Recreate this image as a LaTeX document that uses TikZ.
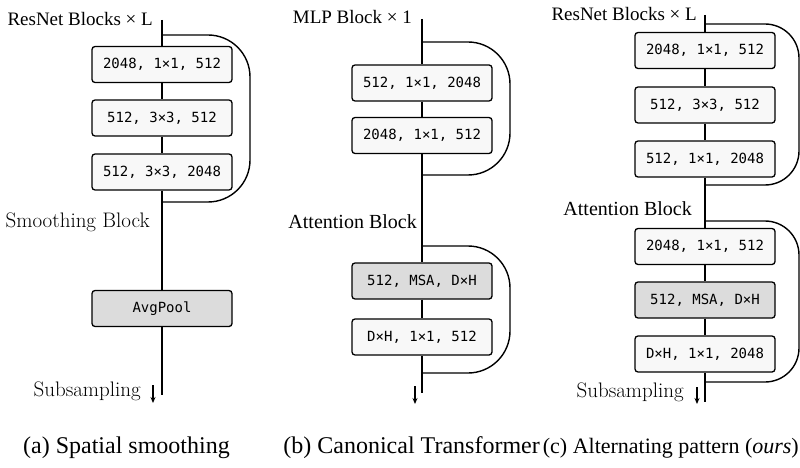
\documentclass[tikz,border=0pt]{standalone}
\usepackage{fontspec}
\setmainfont{Liberation Serif}
\newfontfamily\monof{DejaVu Sans Mono}
\newfontfamily\lmf{Latin Modern Roman}
\usetikzlibrary{arrows.meta}
\definecolor{boxw}{HTML}{F8F8F8}
\definecolor{boxg}{HTML}{DCDCDC}
\begin{document}
\begin{tikzpicture}[x=1pt,y=-1pt,
 blk/.style={draw, line width=1.3pt, rounded corners=3pt, fill=boxw, minimum width=140pt, minimum height=36pt, inner sep=0pt, font=\monof\fontsize{14}{16}\selectfont},
 blkg/.style={blk, fill=boxg},
 ln/.style={line width=1.4pt},
 skipa/.style={line width=1.4pt, rounded corners=42pt},
 skipc/.style={line width=1.4pt, rounded corners=34pt},
 lbl/.style={anchor=east, inner sep=0pt, font=\fontsize{19}{21}\selectfont},
 lbla/.style={anchor=east, inner sep=0pt, font=\fontsize{20}{22}\selectfont},
 lblm/.style={anchor=east, inner sep=0pt, font=\lmf\fontsize{21}{23}\selectfont},
 captxt/.style={anchor=east, inner sep=0pt, font=\fontsize{24}{26}\selectfont},
 sub/.style={-{Stealth[length=6pt,width=5pt]}, line width=1.3pt}]
\useasboundingbox (0,0) rectangle (800,468);
% ---------- (a) ----------
\coordinate (aT) at (162,20);
\coordinate (aS1) at (162,35);
\coordinate (aS2) at (162,202);
\coordinate (aB) at (162,395);
\node[blk] (a1) at (162,64.5) {2048, 1×1, 512};
\node[blk] (a2) at (162,118) {512, 3×3, 512};
\node[blk] (a3) at (162,172) {512, 3×3, 2048};
\node[blkg] (a4) at (162,308.5) {AvgPool};
\draw[ln] (aT) -- (a1);
\draw[ln] (a1) -- (a2);
\draw[ln] (a2) -- (a3);
\draw[ln] (a3) -- (a4);
\draw[ln] (a4) -- (aB);
\draw[skipa] (aS1) -- (250,35) -- (250,202) -- (aS2);
\node[lbl] (aL1) at (153,19) {ResNet Blocks × L};
\node[lblm] (aL2) at (150,222) {Smoothing Block};
\node[lblm] (aL3) at (141,391) {Subsampling};
\coordinate (aA1) at (153,385);
\coordinate (aA2) at (153,403);
\draw[sub] (aA1) -- (aA2);
\node[captxt] (capA) at (230,448) {(a) Spatial smoothing};
% ---------- (b) ----------
\coordinate (bT) at (422,19);
\coordinate (bS1) at (422,42);
\coordinate (bS2) at (422,175);
\coordinate (bS3) at (422,246);
\coordinate (bS4) at (422,373);
\coordinate (bB) at (422,393);
\node[blk] (b1) at (422,83) {512, 1×1, 2048};
\node[blk] (b2) at (422,135.5) {2048, 1×1, 512};
\node[blkg] (b3) at (422,281) {512, MSA, D×H};
\node[blk] (b4) at (422,337) {D×H, 1×1, 512};
\draw[ln] (bT) -- (b1);
\draw[ln] (b1) -- (b2);
\draw[ln] (b2) -- (b3);
\draw[ln] (b3) -- (b4);
\draw[ln] (b4) -- (bB);
\draw[skipa] (bS1) -- (510,42) -- (510,175) -- (bS2);
\draw[skipa] (bS3) -- (510,246) -- (510,373) -- (bS4);
\node[lbl] (bL1) at (412,17) {MLP Block × 1};
\node[lbla] (bL2) at (417,222) {Attention Block};
\coordinate (bA1) at (415,386);
\coordinate (bA2) at (415,404);
\draw[sub] (bA1) -- (bA2);
\node[captxt] (capB) at (540,448) {(b) Canonical Transformer};
% ---------- (c) ----------
\coordinate (cT) at (705,15);
\coordinate (cS1) at (705,24);
\coordinate (cS2) at (705,185);
\coordinate (cS3) at (705,221);
\coordinate (cS4) at (705,382);
\coordinate (cB) at (705,402);
\node[blk] (c1) at (705,50.5) {2048, 1×1, 512};
\node[blk] (c2) at (705,105) {512, 3×3, 512};
\node[blk] (c3) at (705,159) {512, 1×1, 2048};
\node[blk] (c4) at (705,246.5) {2048, 1×1, 512};
\node[blkg] (c5) at (705,300) {512, MSA, D×H};
\node[blk] (c6) at (705,354) {D×H, 1×1, 2048};
\draw[ln] (cT) -- (c1);
\draw[ln] (c1) -- (c2);
\draw[ln] (c2) -- (c3);
\draw[ln] (c3) -- (c4);
\draw[ln] (c4) -- (c5);
\draw[ln] (c5) -- (c6);
\draw[ln] (c6) -- (cB);
\draw[skipc] (cS1) -- (799,24) -- (799,185) -- (cS2);
\draw[skipc] (cS3) -- (799,221) -- (799,382) -- (cS4);
\node[lbl] (cL1) at (697,14) {ResNet Blocks × L};
\node[lbla] (cL2) at (692,209) {Attention Block};
\node[lblm] (cL3) at (684,392) {Subsampling};
\coordinate (cA1) at (697,387);
\coordinate (cA2) at (697,404);
\draw[sub] (cA1) -- (cA2);
\node[captxt, font=\fontsize{22}{24}\selectfont] (capC) at (799,448) {(c) Alternating pattern (\textit{ours})};
\end{tikzpicture}
\end{document}
